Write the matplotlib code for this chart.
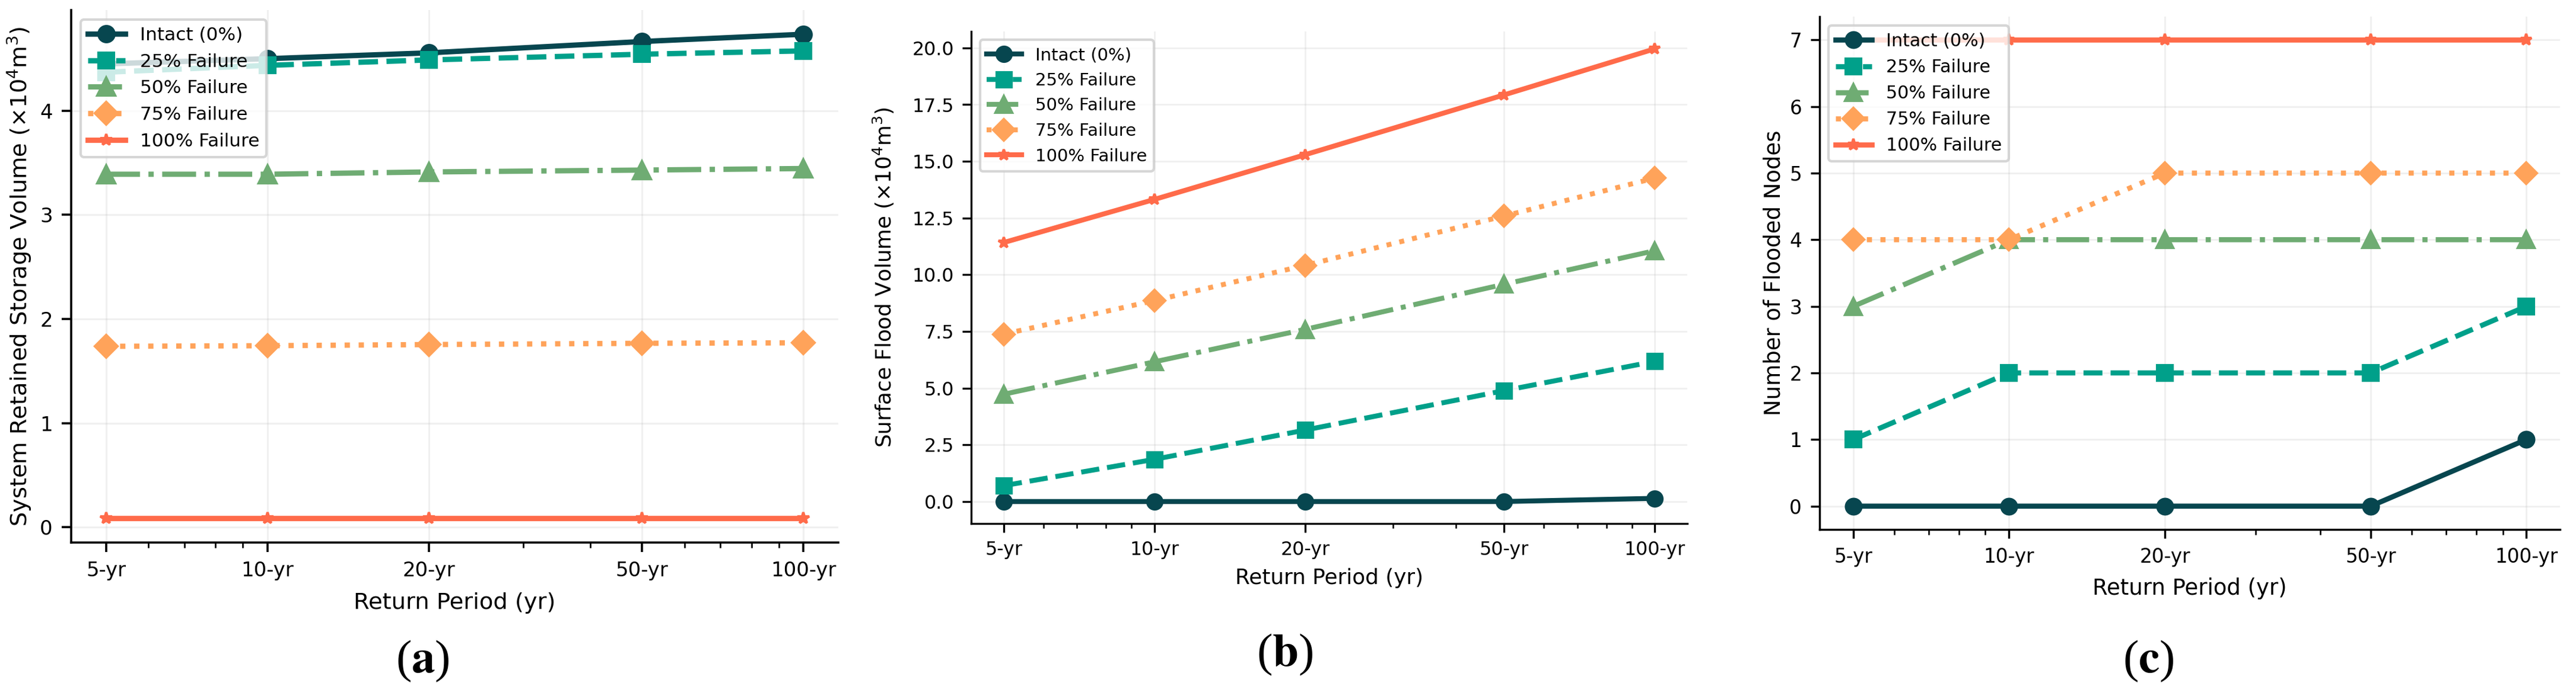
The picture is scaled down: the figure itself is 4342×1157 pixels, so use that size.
import numpy as np
import matplotlib
matplotlib.use('Agg')
import matplotlib.pyplot as plt
from matplotlib.ticker import NullFormatter

# return periods (yr)
periods = [5, 10, 20, 50, 100]
period_labels = ['5-yr', '10-yr', '20-yr', '50-yr', '100-yr']

series_names = ['Intact (0%)', '25% Failure', '50% Failure', '75% Failure', '100% Failure']

# (a) system retained storage volume, x10^4 m3
storage_intact = [4.45, 4.50, 4.556, 4.665, 4.735]
storage_25 = [4.37, 4.436, 4.488, 4.543, 4.575]
storage_50 = [3.39, 3.39, 3.412, 3.43, 3.445]
storage_75 = [1.737, 1.743, 1.754, 1.766, 1.771]
storage_100 = [0.085, 0.085, 0.085, 0.085, 0.085]

# (b) surface flood volume, x10^4 m3
flood_intact = [0.0, 0.0, 0.0, 0.0, 0.14]
flood_25 = [0.70, 1.86, 3.15, 4.89, 6.18]
flood_50 = [4.73, 6.16, 7.59, 9.58, 11.06]
flood_75 = [7.38, 8.86, 10.41, 12.59, 14.26]
flood_100 = [11.42, 13.32, 15.29, 17.93, 19.96]

# (c) number of flooded nodes
nodes_intact = [0, 0, 0, 0, 1]
nodes_25 = [1, 2, 2, 2, 3]
nodes_50 = [3, 4, 4, 4, 4]
nodes_75 = [4, 4, 5, 5, 5]
nodes_100 = [7, 7, 7, 7, 7]

colors = ['#07464f', '#00a08a', '#6fac73', '#ffa35a', '#ff6b4a']
markers = ['o', 's', '^', 'D', '*']
msizes = [6, 6, 6.5, 6, 4.5]
styles = ['-', '--', '-.', ':', '-']

W, H = 4342, 1157
fig = plt.figure(figsize=(14.474, 3.857), dpi=300)

def box(l, r, t, b):
    return [l / W, 1 - b / H, (r - l) / W, (b - t) / H]

def panel(rect, s, data, ylabel, ylab_x, xlab_y, ylim=None):
    ax = fig.add_axes(rect)
    for vals, name, c, m, ms, ls in zip(data, series_names, colors, markers, msizes, styles):
        ax.plot(periods, vals, color=c, marker=m, markersize=ms * s, linestyle=ls,
                linewidth=2.0 * s, label=name)
    ax.set_xscale('log')
    ax.set_xticks(periods)
    ax.set_xticklabels(period_labels)
    ax.xaxis.set_minor_formatter(NullFormatter())
    if ylim is not None:
        ax.set_ylim(*ylim)
    ax.tick_params(which='major', labelsize=7.6 * s, length=3.5 * s, width=0.8 * s, pad=3.5 * s)
    ax.tick_params(which='minor', length=2.0 * s, width=0.6 * s)
    for side in ['top', 'right']:
        ax.spines[side].set_visible(False)
    for side in ['left', 'bottom']:
        ax.spines[side].set_linewidth(0.8 * s)
    ax.grid(True, which='major', color='#b0b0b0', alpha=0.18, linewidth=0.7 * s)
    ax.set_xlabel('Return Period (yr)', fontsize=8.6 * s)
    ax.set_ylabel(ylabel, fontsize=8.6 * s)
    ax.yaxis.set_label_coords(ylab_x, 0.5)
    ax.xaxis.set_label_coords(0.5, xlab_y)
    ax.legend(loc='upper left', fontsize=7.0 * s)
    return ax

unit = r'($\times10^4$m$^3$)'

panel(box(120, 1413, 17, 915), 1.071,
      [storage_intact, storage_25, storage_50, storage_75, storage_100],
      'System Retained Storage Volume ' + unit, -0.049, -0.094)
panel(box(1637, 2844, 53, 883), 1.0,
      [flood_intact, flood_25, flood_50, flood_75, flood_100],
      'Surface Flood Volume ' + unit, -0.105, -0.090, ylim=(-0.97, 20.73))
panel(box(3067, 4315, 28, 893), 1.034,
      [nodes_intact, nodes_25, nodes_50, nodes_75, nodes_100],
      'Number of Flooded Nodes', -0.047, -0.093)

# sub-figure captions
for lab, x, y in [('a', 712, 1115), ('b', 2166, 1104), ('c', 3621, 1115)]:
    fig.text(x / W, 1 - y / H, r'($\mathbf{' + lab + '}$)', ha='center', va='center',
             family='Liberation Serif', math_fontfamily='stix', fontsize=19)

fig.savefig('out.png', dpi=300)
